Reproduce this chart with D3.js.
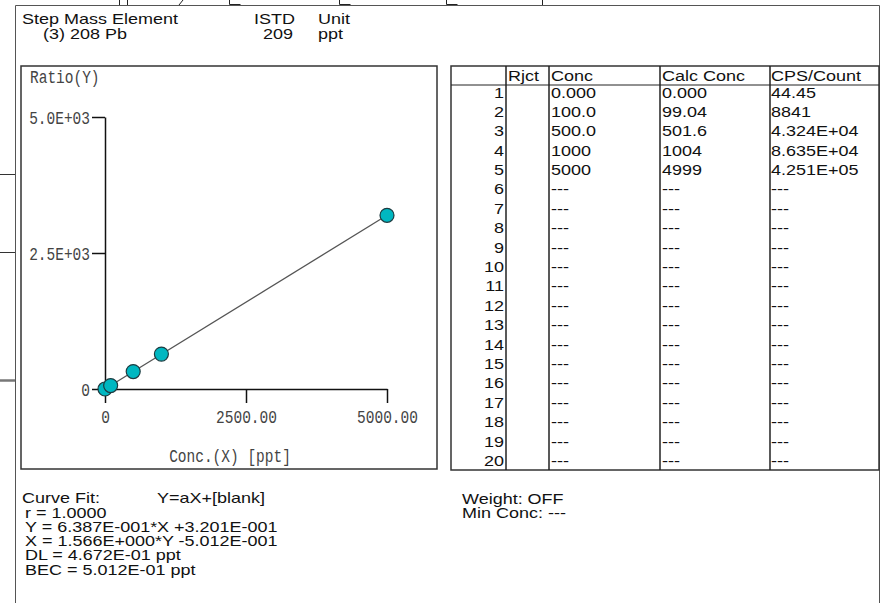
<!DOCTYPE html>
<html><head><meta charset="utf-8">
<script src="https://cdn.jsdelivr.net/npm/d3@7"></script>
<style>
html,body{margin:0;padding:0;background:#fff;}
svg{display:block;}
</style></head>
<body>
<svg id="c" width="885" height="603"></svg>
<script>
// ---- data ----
const stdConc   = [0, 100, 500, 1000, 5000];          // X, ppt
const stdRatio  = [0.32, 63.6, 320.6, 641.4, 3192.6];  // Y ratio
const concText  = ["0.000","100.0","500.0","1000","5000"];
const calcText  = ["0.000","99.04","501.6","1004","4999"];
const cpsText   = ["44.45","8841","4.324E+04","8.635E+04","4.251E+05"];
const rowCount  = 20;
const xTicks    = [0, 2500, 5000];
const xTickText = ["0", "2500.00", "5000.00"];
const yTicks    = [0, 2500, 5000];
const yTickText = ["0", "2.5E+03", "5.0E+03"];
const fitSlope  = 0.6387;
const fitIntercept = 0.3201;
const headerLeft  = ["Step Mass Element", "(3) 208 Pb"];
const headerIstd  = ["ISTD", "209"];
const headerUnit  = ["Unit", "ppt"];
const fitLines = ["r = 1.0000","Y = 6.387E-001*X +3.201E-001","X = 1.566E+000*Y -5.012E-001","DL = 4.672E-01 ppt","BEC = 5.012E-01 ppt"];
const sideLines = ["Weight: OFF","Min Conc: ---"];
const tableHead = ["Rjct","Conc","Calc Conc","CPS/Count"];

const svg = d3.select("#c");
const SANS = "'Liberation Sans', Arial, sans-serif";
const MONO = "'Liberation Mono', 'Courier New', monospace";
const SX = 1.2;   // horizontal stretch of sans text
const MY = 1.3;   // vertical stretch of mono text

function stxt(p, x, y, s, anchor, size, sx){
  const g = p.append("g").attr("transform",`translate(${x},${y}) scale(${sx||SX},1)`);
  g.append("text").attr("x",0).attr("y",0).attr("text-anchor",anchor||"start")
   .attr("font-family",SANS).attr("font-size",size||15).attr("fill","#111").text(s);
  return g;
}
function mtxt(p, x, y, s, anchor){
  const g = p.append("g").attr("transform",`translate(${x},${y}) scale(1,${MY})`);
  g.append("text").attr("text-anchor",anchor||"start")
   .attr("font-family",MONO).attr("font-size",14.5).attr("fill","#444").text(s);
  return g;
}

// ---- page artifacts / outer frame ----
const art = svg.append("g").attr("stroke","#222").attr("stroke-width",1).attr("fill","none");
[[119.5,0,119.5,5],[127.5,0,127.5,5],[179,5,183,0],[542.5,0,542.5,5]].forEach(d=>art.append("line").attr("x1",d[0]).attr("y1",d[1]).attr("x2",d[2]).attr("y2",d[3]));
[229.5,339.5,446.5].forEach(x=>art.append("path").attr("d",`M${x},0V4.5H${x+11}`));
[[174.5,1],[252.5,1],[380.5,2.5]].forEach(d=>svg.append("line").attr("x1",0).attr("x2",15).attr("y1",d[0]).attr("y2",d[0]).attr("stroke",d[1]>1?"#777":"#333").attr("stroke-width",d[1]));
svg.append("path").attr("d","M15.5,610V5.5H879.5V610").attr("fill","none").attr("stroke","#555").attr("stroke-width",1);

// ---- header ----
const HS = 14, HSX = 1.285;
stxt(svg, 22, 24, headerLeft[0], "start", HS, HSX);
stxt(svg, 43, 39, headerLeft[1], "start", HS, HSX);
stxt(svg, 254, 24, headerIstd[0], "start", HS, HSX);
stxt(svg, 293, 39, headerIstd[1], "end", HS, HSX);
stxt(svg, 318, 24, headerUnit[0], "start", HS, HSX);
stxt(svg, 318, 39, headerUnit[1], "start", HS, HSX);

// ---- chart box ----
svg.append("rect").attr("x",21).attr("y",66).attr("width",416).attr("height",403)
  .attr("fill","none").attr("stroke","#333").attr("stroke-width",1.5);
mtxt(svg, 30, 83, "Ratio(Y)");

const x = d3.scaleLinear().domain([0,5000]).range([105,387]);
const y = d3.scaleLinear().domain([0,5000]).range([389,117]);

const gx = svg.append("g").attr("transform","translate(0,389)")
  .call(d3.axisBottom(x).tickValues(xTicks).tickFormat((d,i)=>xTickText[i]).tickSize(14).tickSizeOuter(0));
const gy = svg.append("g").attr("transform","translate(105,0)")
  .call(d3.axisLeft(y).tickValues(yTicks).tickFormat((d,i)=>yTickText[i]).tickSize(13).tickSizeOuter(0));
[gx,gy].forEach(g=>{
  g.select(".domain").attr("stroke","#111").attr("stroke-width",1.5);
  g.selectAll(".tick line").attr("stroke","#111").attr("stroke-width",1.5);
  g.selectAll(".tick text").attr("font-family",MONO).attr("font-size",14.5).attr("fill","#444");
});
gx.selectAll(".tick text").attr("dy",null).attr("y",0).attr("transform",`translate(0,34) scale(1,${MY})`);
gy.selectAll(".tick text").attr("dy",null).attr("x",0).attr("y",0).attr("transform",`translate(-15,6) scale(1,${MY})`);

mtxt(svg, 230, 462, "Conc.(X) [ppt]", "middle");

// fit line
const fitX = [0, 5000];
svg.append("path")
  .datum(fitX.map(v=>[v, fitSlope*v+fitIntercept]))
  .attr("d", d3.line().x(d=>x(d[0])).y(d=>y(d[1])))
  .attr("stroke","#555").attr("stroke-width",1.3).attr("fill","none");
svg.append("g").selectAll("circle").data(stdConc).join("circle")
  .attr("cx",(d)=>x(d)).attr("cy",(d,i)=>y(stdRatio[i])).attr("r",7)
  .attr("fill","#00b7c1").attr("stroke","#1d3b40").attr("stroke-width",1.2);

// ---- table ----
const T = {x0:451, x1:879, y0:66, y1:470, cols:[506,549,660,770]};
const tb = svg.append("g");
tb.append("rect").attr("x",T.x0).attr("y",T.y0).attr("width",T.x1-T.x0).attr("height",T.y1-T.y0)
  .attr("fill","none").attr("stroke","#333").attr("stroke-width",1.5);
T.cols.forEach(c=>tb.append("line").attr("x1",c).attr("x2",c).attr("y1",T.y0).attr("y2",T.y1).attr("stroke","#222").attr("stroke-width",1.5));
tb.append("line").attr("x1",T.x0).attr("x2",T.x1).attr("y1",85).attr("y2",85).attr("stroke","#222").attr("stroke-width",1);
stxt(tb, 508, 81, tableHead[0]);
stxt(tb, 551, 81, tableHead[1]);
stxt(tb, 662, 81, tableHead[2]);
stxt(tb, 771, 81, tableHead[3]);
const rows = d3.range(1,rowCount+1);
const ry = d3.scalePoint().domain(rows).range([97.5,466]);
rows.forEach((r,i)=>{
  const yy = ry(r);
  stxt(tb, 504, yy, String(r), "end");
  stxt(tb, 551, yy, i<concText.length?concText[i]:"---");
  stxt(tb, 662, yy, i<calcText.length?calcText[i]:"---");
  stxt(tb, 771, yy, i<cpsText.length?cpsText[i]:"---");
});

// ---- footer ----
const FS = 14, FSX = 1.285;
stxt(svg, 22, 503, "Curve Fit:", "start", FS, FSX);
stxt(svg, 157, 503, "Y=aX+[blank]", "start", FS, FSX);
fitLines.forEach((s,i)=>stxt(svg, 25, 517.5+i*14.3, s, "start", FS, FSX));
sideLines.forEach((s,i)=>stxt(svg, 462, 504+i*14.3, s, "start", FS, FSX));
</script>
</body></html>
